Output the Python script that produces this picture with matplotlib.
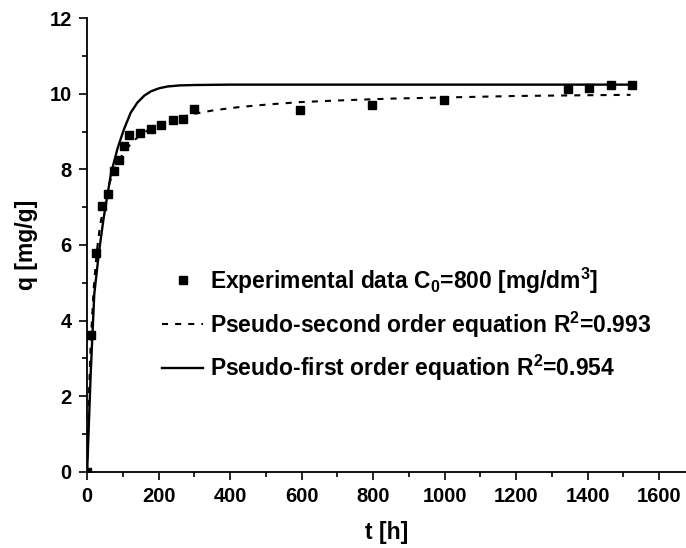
import numpy as np
import matplotlib
matplotlib.use("Agg")
import matplotlib.pyplot as plt
from matplotlib.ticker import MultipleLocator

plt.rcParams["font.family"] = ["Liberation Sans", "DejaVu Sans"]
plt.rcParams["font.weight"] = "bold"
plt.rcParams["mathtext.fontset"] = "custom"
plt.rcParams["mathtext.rm"] = "Liberation Sans:bold"
plt.rcParams["mathtext.bf"] = "Liberation Sans:bold"
plt.rcParams["mathtext.default"] = "regular"

# Experimental points
t_exp = [0, 11, 26, 42, 59, 74, 89, 103, 118, 148, 178, 208, 240, 269, 299,
         596, 798, 999, 1344, 1404, 1464, 1524]
q_exp = [0, 3.63, 5.8, 7.02, 7.36, 7.95, 8.24, 8.62, 8.9, 8.97, 9.06, 9.17,
         9.31, 9.34, 9.59, 9.57, 9.71, 9.84, 10.13, 10.16, 10.23, 10.24]

# Pseudo-second order curve (dashed)
t_pso = [0, 5, 10, 18, 27, 36, 45, 58, 70, 88, 106, 130, 150, 175, 200, 250,
         300, 353, 428, 512, 600, 726, 850, 1000, 1200, 1400, 1520]
q_pso = [0, 2.02, 3.38, 4.8, 5.82, 6.5, 6.96, 7.48, 7.86, 8.22, 8.5, 8.75,
         8.92, 9.06, 9.18, 9.35, 9.47, 9.56, 9.65, 9.72, 9.78, 9.83, 9.87,
         9.9, 9.94, 9.96, 9.97]

# Pseudo-first order curve (solid)
t_pfo = [0, 10, 20, 33, 46, 67, 85, 103, 122, 141, 160, 178, 200, 224, 260,
         300, 400, 600, 1000, 1525]
q_pfo = [0, 2.6, 4.7, 5.8, 6.7, 7.9, 8.55, 9.06, 9.5, 9.77, 9.95, 10.06,
         10.14, 10.19, 10.22, 10.23, 10.24, 10.24, 10.24, 10.24]

fig = plt.figure(figsize=(6.86, 5.48), dpi=100)
ax = fig.add_axes([0.127, 0.139, 0.873, 0.828])

ax.plot(t_exp, q_exp, "s", color="black", markersize=6.3,
        label="Experimental data C$_0$=800 [mg/dm$^3$]")
ax.plot(t_pso, q_pso, "--", color="black", linewidth=1.5, dashes=(2.9, 3.4),
        label="Pseudo-second order equation R$^2$=0.993")
ax.plot(t_pfo, q_pfo, "-", color="black", linewidth=1.7,
        label="Pseudo-first order equation R$^2$=0.954")

ax.set_xlim(0, 1675)
ax.set_ylim(0, 12)
ax.xaxis.set_major_locator(MultipleLocator(200))
ax.xaxis.set_minor_locator(MultipleLocator(100))
ax.yaxis.set_major_locator(MultipleLocator(2))
ax.yaxis.set_minor_locator(MultipleLocator(1))
ax.set_xticks(np.arange(0, 1601, 200))

for side in ["top", "right"]:
    ax.spines[side].set_visible(False)
for side in ["left", "bottom"]:
    ax.spines[side].set_linewidth(1.3)

ax.tick_params(which="major", direction="out", length=6, width=1.2,
               labelsize=14.5, pad=5)
ax.tick_params(which="minor", direction="out", length=3.5, width=1.2)

ax.set_xlabel("t [h]", fontsize=16.5, fontweight="bold", labelpad=11)
ax.set_ylabel("q [mg/g]", fontsize=16.5, fontweight="bold", labelpad=8)

leg = ax.legend(loc="upper left", bbox_to_anchor=(0.125, 0.455), frameon=False,
                fontsize=16.5, handlelength=1.8, handletextpad=0.3,
                labelspacing=0.6, borderpad=0, borderaxespad=0)

fig.savefig("out.png", dpi=100)
